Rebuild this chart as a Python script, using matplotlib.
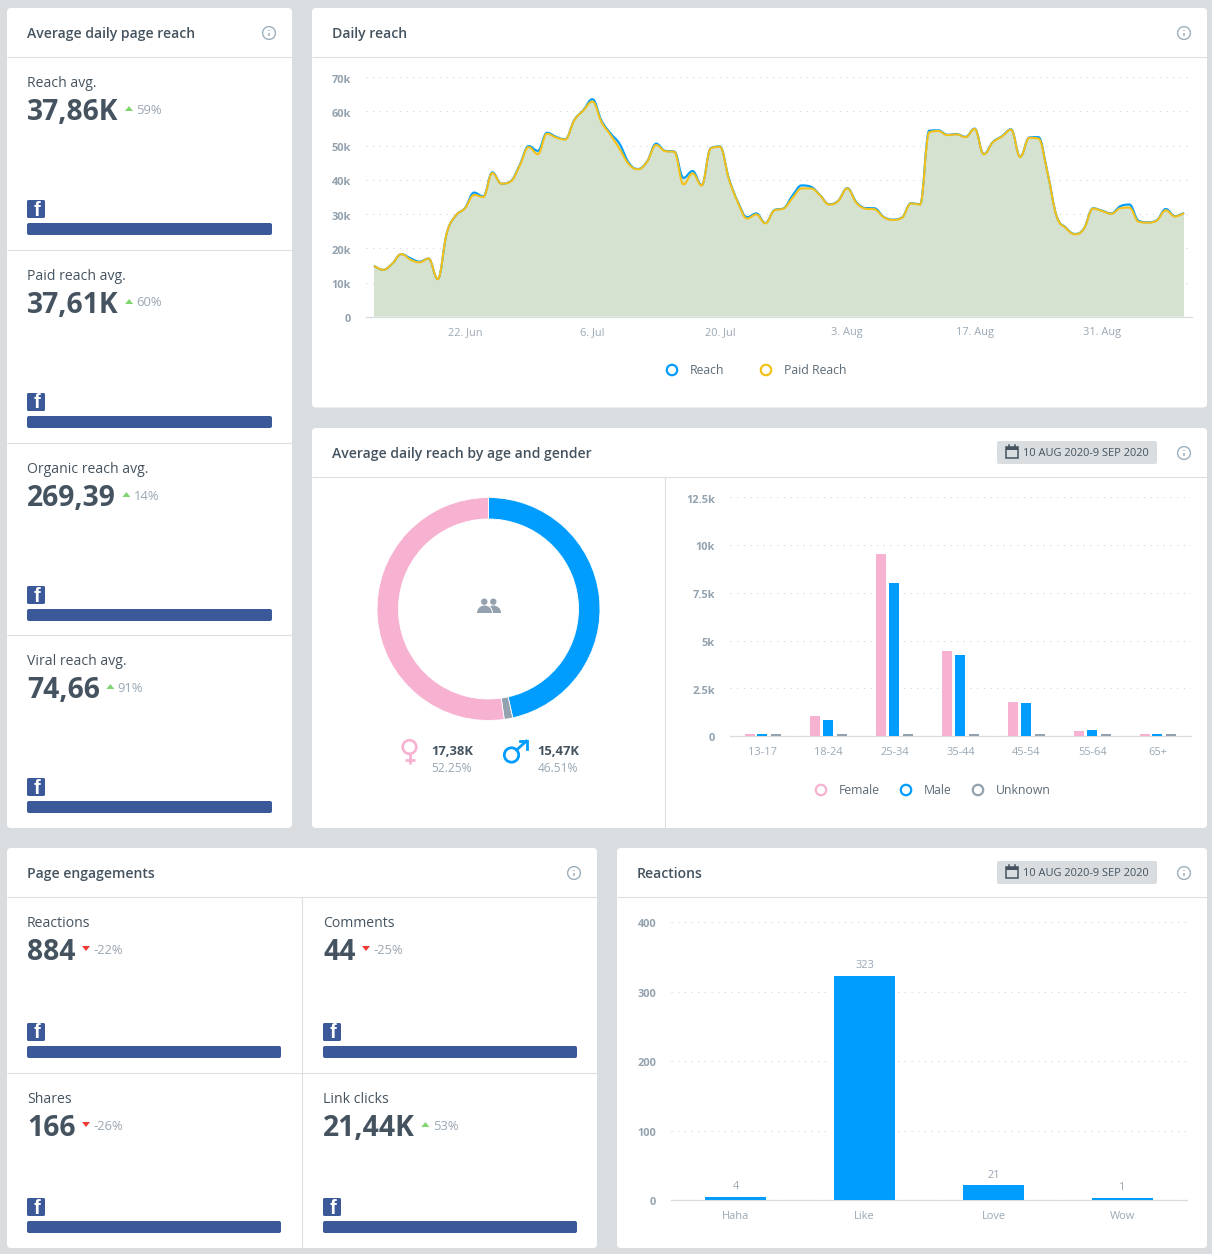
import matplotlib
matplotlib.use("Agg")
import matplotlib.pyplot as plt
import matplotlib.dates as mdates
import numpy as np
import pandas as pd
from matplotlib.patches import Circle, FancyBboxPatch, Polygon, Rectangle, Wedge, PathPatch
from matplotlib.path import Path
from matplotlib.transforms import ScaledTranslation

W, H = 1212, 1254

plt.rcParams["font.family"] = ["Open Sans", "DejaVu Sans"]

# daily reach, 12 Jun - 9 Sep 2020, in thousands
reach = [14.9, 13.7, 15.5, 18.3, 17.1, 16.1, 17.0, 11.0, 24.5, 29.6,
         31.8, 36.3, 35.2, 42.2, 38.9, 39.6, 44.3, 49.9, 48.5, 53.8,
         52.6, 51.9, 57.5, 60.4, 63.6, 57.3, 53.6, 50.5, 45.0, 43.2,
         45.4, 50.6, 48.5, 48.3, 40.6, 42.6, 38.5, 49.3, 49.8, 40.4,
         33.5, 29.1, 30.2, 27.4, 31.2, 31.7, 35.5, 38.4, 38.0, 35.6,
         32.9, 33.9, 37.6, 33.5, 31.8, 31.7, 29.2, 28.4, 29.0, 33.2,
         32.9, 54.4, 54.5, 53.2, 53.4, 52.6, 55.0, 47.6, 51.1, 52.8,
         54.8, 46.8, 52.4, 52.5, 42.2, 29.5, 26.1, 24.2, 25.8, 31.7,
         31.0, 30.2, 32.3, 32.8, 28.1, 27.6, 28.2, 31.5, 29.4, 30.4]
paid_reach = [14.9, 13.7, 15.5, 18.3, 16.7, 15.9, 17.0, 11.0, 24.5, 29.6,
              31.7, 35.6, 35.0, 42.0, 38.9, 39.5, 44.1, 49.6, 47.5, 53.5,
              52.4, 51.8, 57.4, 60.3, 62.9, 56.9, 53.1, 49.0, 44.6, 43.1,
              45.3, 50.2, 48.4, 48.2, 38.7, 41.9, 38.4, 49.2, 49.7, 40.2,
              33.3, 28.7, 29.9, 27.3, 31.1, 31.6, 34.8, 37.5, 37.5, 35.5,
              32.8, 33.8, 37.5, 33.3, 31.6, 31.4, 29.1, 28.3, 28.9, 33.1,
              32.8, 53.9, 54.3, 53.1, 53.3, 52.5, 54.9, 47.5, 51.0, 52.7,
              54.7, 46.7, 52.3, 52.1, 42.1, 29.4, 26.0, 24.1, 25.7, 31.6,
              30.9, 30.1, 31.7, 31.9, 27.8, 27.5, 28.1, 31.1, 29.3, 30.3]
reach_ticks = [0, 10, 20, 30, 40, 50, 60, 70]
reach_tick_labels = ["0", "10k", "20k", "30k", "40k", "50k", "60k", "70k"]
date_ticks = ["2020-06-22", "2020-07-06", "2020-07-20", "2020-08-03", "2020-08-17", "2020-08-31"]
date_labels = ["22. Jun", "6. Jul", "20. Jul", "3. Aug", "17. Aug", "31. Aug"]

age_groups = ["13-17", "18-24", "25-34", "35-44", "45-54", "55-64", "65+"]
female = [90, 1050, 9530, 4450, 1780, 260, 90]
male = [95, 840, 8010, 4240, 1730, 310, 95]
unknown = [40, 60, 70, 50, 45, 30, 25]
age_ticks = [0, 2500, 5000, 7500, 10000, 12500]
age_tick_labels = ["0", "2.5k", "5k", "7.5k", "10k", "12.5k"]

gender_values = [15.47, 0.41, 17.38]

reaction_names = ["Haha", "Like", "Love", "Wow"]
reaction_values = [4, 323, 21, 1]
reaction_ticks = [0, 100, 200, 300, 400]

reach_metrics = [("Reach avg.", "37,86K", "59%", True),
                 ("Paid reach avg.", "37,61K", "60%", True),
                 ("Organic reach avg.", "269,39", "14%", True),
                 ("Viral reach avg.", "74,66", "91%", True)]
engagement_metrics = [("Reactions", "884", "-22%", False),
                      ("Comments", "44", "-25%", False),
                      ("Shares", "166", "-26%", False),
                      ("Link clicks", "21,44K", "53%", True)]

BG = "#d9dde0"
LINE = "#dcdfe2"
DARK = "#44535f"
GRAY = "#9aa8b4"
AXIS = "#93a2ae"
BLUE = "#009dff"
YELLOW = "#f5c118"
PINK = "#f7b2d2"
UNKNOWN = "#93a2ae"
FB = "#3b5998"
GREEN = "#7fd66f"
RED = "#ee3a33"


def px(size):
    return size * 0.72


fig = plt.figure(figsize=(W / 100, H / 100), dpi=100, facecolor=BG)
bg = fig.add_axes([0, 0, 1, 1])
bg.set_xlim(0, W)
bg.set_ylim(H, 0)
bg.axis("off")
renderer = fig.canvas.get_renderer()


def px_axes(x0, y0, x1, y1):
    ax = fig.add_axes([x0 / W, 1 - y1 / H, (x1 - x0) / W, (y1 - y0) / H])
    ax.patch.set_alpha(0)
    for s in ax.spines.values():
        s.set_visible(False)
    return ax


def hline(y, x0, x1):
    bg.plot([x0, x1], [y, y], color=LINE, lw=0.8, solid_capstyle="butt", zorder=2)


def vline(x, y0, y1):
    bg.plot([x, x], [y0, y1], color=LINE, lw=0.8, solid_capstyle="butt", zorder=2)


def card(x0, y0, x1, y1, title, header_y):
    bg.add_patch(FancyBboxPatch((x0, y0), x1 - x0, y1 - y0, boxstyle="round,pad=0,rounding_size=4",
                                fc="white", ec="none", zorder=1))
    hline(header_y, x0, x1)
    tx = 27 if x0 == 7 else x0 + 20
    bg.text(tx, y0 + 26, title, fontsize=px(14), fontweight="semibold", color=DARK, va="center")
    info_icon(x1 - 23, y0 + 25)


def info_icon(x, y):
    bg.add_patch(Circle((x, y), 6.4, fc="none", ec="#9eafbc", lw=1, zorder=3))
    bg.plot([x, x], [y - 0.5, y + 3.4], color="#9eafbc", lw=1.1, zorder=3, solid_capstyle="butt")
    bg.plot([x, x], [y - 3.5, y - 2.3], color="#9eafbc", lw=1.1, zorder=3, solid_capstyle="butt")


def date_chip(y):
    bg.add_patch(FancyBboxPatch((997, y), 160, 23, boxstyle="round,pad=0,rounding_size=2",
                                fc=BG, ec="none", zorder=2))
    bg.add_patch(Rectangle((1006, y + 6), 11.5, 11, fc="none", ec=DARK, lw=1.1, zorder=3))
    bg.add_patch(Rectangle((1006, y + 6), 11.5, 3, fc=DARK, ec="none", zorder=3))
    bg.plot([1008.5, 1008.5], [y + 4, y + 6], color=DARK, lw=1.1, zorder=3)
    bg.plot([1015, 1015], [y + 4, y + 6], color=DARK, lw=1.1, zorder=3)
    bg.text(1023, y + 12.5, "10 AUG 2020-9 SEP 2020", fontsize=px(11), color=DARK, va="center", zorder=3)


def metric(x, y, width, drop, label, value, change, up):
    bg.text(x, y + 1.8, label, fontsize=px(14), color=DARK, va="center", zorder=3)
    t = bg.text(x, y + 30.5, value, fontsize=px(28.3), fontweight="bold", color=DARK, va="center", zorder=3)
    right = t.get_window_extent(renderer).x1
    ty = y + 27
    if up:
        bg.add_patch(Polygon([[right + 6.5, ty + 2], [right + 14.5, ty + 2], [right + 10.5, ty - 3]], fc=GREEN, ec="none", zorder=3))
    else:
        bg.add_patch(Polygon([[right + 6.5, ty - 3], [right + 14.5, ty - 3], [right + 10.5, ty + 2]], fc=RED, ec="none", zorder=3))
    bg.text(right + 18, ty + 1, change, fontsize=px(13), color=GRAY, va="center", zorder=3)
    # facebook square and the full-width share bar
    bg.add_patch(FancyBboxPatch((x, y + drop), 18, 18, boxstyle="round,pad=0,rounding_size=1.5", fc=FB, ec="none", zorder=3))
    bg.text(x + 10, y + drop + 10, "f", fontsize=px(20), fontweight="bold", color="white", ha="center", va="center", zorder=4,
            family="Liberation Sans")
    bg.add_patch(FancyBboxPatch((x, y + drop + 23), width, 12, boxstyle="round,pad=0,rounding_size=2", fc=FB, ec="none", zorder=3))


def legend_item(x, y, label, color):
    bg.add_patch(Circle((x, y), 5.2, fc="white", ec=color, lw=1.6, zorder=3))
    bg.text(x + 18, y + 1, label, fontsize=px(12.3), color="#5d6b77", va="center", zorder=3)


def style_axis(ax, ticks, labels):
    ax.set_yticks(ticks)
    ax.set_yticklabels(labels, fontsize=px(11), fontweight="bold", color=AXIS)
    ax.tick_params(axis="both", length=0)
    ax.tick_params(axis="y", pad=px(15))
    ax.grid(axis="y", color="#d0d5d9", lw=0.8, linestyle=(0, (1, 5)))
    ax.set_axisbelow(True)
    ax.axhline(0, color="#d8dce0", lw=0.9, zorder=2.5, clip_on=False)
    off = ScaledTranslation(0, -1.4 / 100, fig.dpi_scale_trans)
    for lab in ax.get_yticklabels():
        lab.set_transform(lab.get_transform() + off)
    for lab in ax.get_xticklabels():
        lab.set_fontsize(px(11))
        lab.set_color(GRAY)


def spline_path(x, y, close_at=None):
    # same smoothing as a Highcharts spline series
    x = np.asarray(x, float)
    y = np.asarray(y, float)
    verts = [(x[0], y[0])]
    codes = [Path.MOVETO]
    s, d = 1.5, 2.5
    prev_right = (x[0], y[0])
    for i in range(1, len(x)):
        if i < len(x) - 1:
            lx, ly = (s * x[i] + x[i - 1]) / d, (s * y[i] + y[i - 1]) / d
            rx, ry = (s * x[i] + x[i + 1]) / d, (s * y[i] + y[i + 1]) / d
            c = (ry - ly) * (rx - x[i]) / (rx - lx) + y[i] - ry
            ly += c
            ry += c
            if ly > max(y[i - 1], y[i]):
                ly = max(y[i - 1], y[i])
                ry = 2 * y[i] - ly
            elif ly < min(y[i - 1], y[i]):
                ly = min(y[i - 1], y[i])
                ry = 2 * y[i] - ly
            if ry > max(y[i], y[i + 1]):
                ry = max(y[i], y[i + 1])
                ly = 2 * y[i] - ry
            elif ry < min(y[i], y[i + 1]):
                ry = min(y[i], y[i + 1])
                ly = 2 * y[i] - ry
        else:
            lx, ly, rx, ry = x[i], y[i], x[i], y[i]
        verts += [prev_right, (lx, ly), (x[i], y[i])]
        codes += [Path.CURVE4] * 3
        prev_right = (rx, ry)
    if close_at is not None:
        verts += [(x[-1], close_at), (x[0], close_at), (x[0], y[0])]
        codes += [Path.LINETO, Path.LINETO, Path.CLOSEPOLY]
    return Path(verts, codes)


# cards
card(7, 8, 292, 828, "Average daily page reach", 57)
card(312, 8, 1207, 407.5, "Daily reach", 57)
card(312, 428, 1207, 828, "Average daily reach by age and gender", 477)
card(7, 848, 597, 1248, "Page engagements", 897)
card(617, 848, 1207, 1248, "Reactions", 897)
date_chip(441)
date_chip(861)
vline(665, 477, 828)
vline(302, 897, 1248)
hline(1073, 7, 597)
for y in [250, 443, 635]:
    hline(y, 7, 292)

for y, m in zip([82, 275, 468, 660], reach_metrics):
    metric(27, y, 245, 118, *m)
for (x, y, drop), m in zip([(27, 922, 101), (323, 922, 101), (27, 1098, 100), (323, 1098, 100)], engagement_metrics):
    metric(x, y, 254, drop, *m)

# daily reach area chart
days = mdates.date2num(pd.date_range("2020-06-12", periods=len(reach)))
ax1 = px_axes(366, 77.3, 1192, 316.7)
ax1.set_xlim(days[0] - 8 / 9.1, days[-1] + 8 / 9.1)
ax1.set_ylim(0, 70)
ax1.set_xticks(mdates.date2num(pd.to_datetime(date_ticks)))
ax1.set_xticklabels(date_labels)
style_axis(ax1, reach_ticks, reach_tick_labels)
ax1.tick_params(axis="x", pad=px(10))
ax1.add_patch(PathPatch(spline_path(days, reach, 0), fc="#d3e1cd", ec="none", alpha=0.95, zorder=2))
ax1.add_patch(PathPatch(spline_path(days, reach), fc="none", ec=BLUE, lw=1.5, zorder=3))
ax1.add_patch(PathPatch(spline_path(days, paid_reach), fc="none", ec=YELLOW, lw=1.5, zorder=4))
legend_item(672, 370, "Reach", BLUE)
legend_item(766, 370, "Paid Reach", YELLOW)

# gender donut
ax2 = px_axes(488.5 - 111.5, 609 - 111.5, 488.5 + 111.5, 609 + 111.5)
ax2.pie(gender_values, colors=[BLUE, UNKNOWN, PINK], startangle=90, counterclock=False, radius=1,
        wedgeprops=dict(width=21.5 / 111.5, edgecolor="white", linewidth=0.6))
ax2.set_xlim(-1, 1)
ax2.set_ylim(-1, 1)

PEOPLE = "#93a2ae"
bg.add_patch(Circle((493.3, 601.7), 3.2, fc=PEOPLE, ec="none", zorder=3))
bg.add_patch(Wedge((493.5, 613), 7.5, 180, 360, fc=PEOPLE, ec="none", zorder=3))
bg.add_patch(Wedge((484.5, 613), 8.5, 180, 360, fc="white", ec="none", zorder=3.1))
bg.add_patch(Circle((484.3, 601.7), 3.2, fc=PEOPLE, ec="none", zorder=3.2))
bg.add_patch(Wedge((484.5, 613), 7.5, 180, 360, fc=PEOPLE, ec="none", zorder=3.2))

bg.add_patch(Circle((409.5, 747), 6.8, fc="none", ec=PINK, lw=1.9, zorder=3))
bg.plot([409.5, 409.5], [754, 764], color=PINK, lw=2, zorder=3, solid_capstyle="butt")
bg.plot([404.5, 414.5], [759.5, 759.5], color=PINK, lw=2, zorder=3, solid_capstyle="butt")
bg.add_patch(Circle((511.5, 755), 7.2, fc="none", ec=BLUE, lw=2, zorder=3))
bg.plot([516.5, 526.5], [750, 741], color=BLUE, lw=2, zorder=3)
bg.plot([519.5, 527, 527], [740.5, 740.5, 749], color=BLUE, lw=2, zorder=3, solid_joinstyle="miter")

bg.text(431.5, 751.5, "17,38K", fontsize=px(13), fontweight="bold", color=DARK, va="center", zorder=3)
bg.text(431.5, 768, "52.25%", fontsize=px(12), color=GRAY, va="center", zorder=3)
bg.text(537.5, 751.5, "15,47K", fontsize=px(13), fontweight="bold", color=DARK, va="center", zorder=3)
bg.text(537.5, 768, "46.51%", fontsize=px(12), color=GRAY, va="center", zorder=3)

# age / gender bars
ax3 = px_axes(730, 497.3, 1191, 736)
ax3.set_xlim(-0.5, 6.5)
ax3.set_ylim(0, 12500)
ax3.set_xticks(range(len(age_groups)))
ax3.set_xticklabels(age_groups)
style_axis(ax3, age_ticks, age_tick_labels)
ax3.tick_params(axis="x", pad=px(11))
px_x = 7 / 461
px_y = 12500 / 238.7
min_len = 2 * px_y
for off, vals in [(-13.3, female), (-0.6, male), (13.3, unknown)]:
    pos = np.arange(len(age_groups)) + off * px_x
    ax3.bar(pos, np.maximum(vals, min_len) + 3 * px_y, width=16 * px_x, color="white", zorder=2)
for off, vals, col in [(-13.3, female, PINK), (-0.6, male, BLUE), (13.3, unknown, UNKNOWN)]:
    pos = np.arange(len(age_groups)) + off * px_x
    ax3.bar(pos, np.maximum(vals, min_len), width=10 * px_x, color=col, zorder=3)
legend_item(821, 790, "Female", PINK)
legend_item(906, 790, "Male", BLUE)
legend_item(978, 790, "Unknown", UNKNOWN)

# reactions bars
ax4 = px_axes(671, 922, 1187, 1200)
ax4.set_xlim(-0.5, 3.5)
ax4.set_ylim(0, 400)
ax4.set_xticks(range(len(reaction_names)))
ax4.set_xticklabels(reaction_names)
style_axis(ax4, reaction_ticks, [str(t) for t in reaction_ticks])
ax4.tick_params(axis="x", pad=px(11))
px_x4 = 4 / 516
px_y4 = 400 / 278
heights = np.maximum(reaction_values, 2 * px_y4)
ax4.bar(range(4), heights + 3 * px_y4, width=67 * px_x4, color="white", zorder=2)
ax4.bar(range(4), heights, width=61 * px_x4, color=BLUE, zorder=3)
for i, v in enumerate(reaction_values):
    ax4.annotate(str(v), (i, heights[i]), xytext=(0, 3.5), textcoords="offset points", ha="center", va="bottom",
                 fontsize=px(11), color=GRAY, zorder=4)

fig.savefig("out.png", dpi=100, facecolor=BG)
plt.close(fig)
